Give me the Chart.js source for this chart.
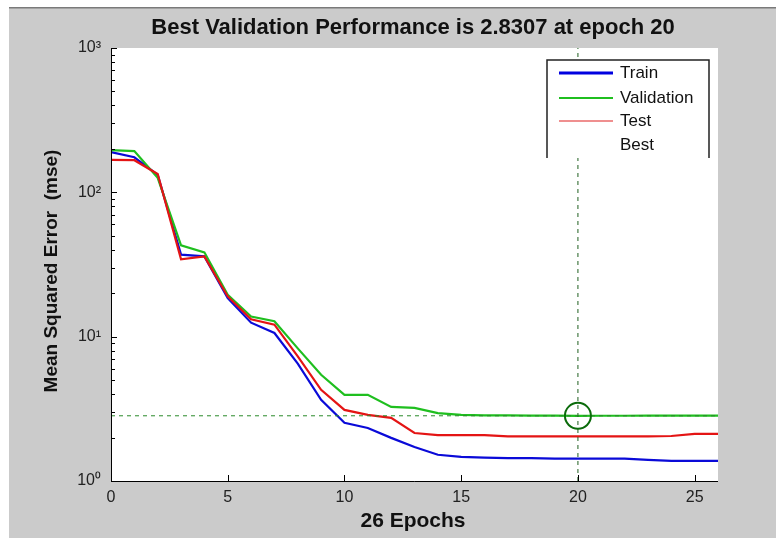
<!DOCTYPE html>
<html>
<head>
<meta charset="utf-8">
<script src="https://cdn.jsdelivr.net/npm/chart.js@4.4.1/dist/chart.umd.min.js"></script>
<style>
  html, body { margin: 0; padding: 0; background: #fff; }
  #wrap { width: 776px; height: 538px; }
</style>
</head>
<body>
<div id="wrap"><canvas id="chart" width="776" height="538"></canvas></div>
<script>
const epochs = [0, 1, 2, 3, 4, 5, 6, 7, 8, 9, 10, 11, 12, 13, 14, 15, 16, 17, 18, 19, 20, 21, 22, 23, 24, 25, 26];
const train = [190, 175, 132, 37, 36, 18.5, 12.5, 10.6, 6.5, 3.65, 2.53, 2.33, 1.99, 1.72, 1.52, 1.47, 1.45, 1.44, 1.44, 1.43, 1.43, 1.43, 1.43, 1.40, 1.38, 1.38, 1.38];
const validation = [196, 193, 126, 43, 38.4, 19.5, 13.8, 12.8, 8.3, 5.45, 3.95, 3.95, 3.26, 3.21, 2.95, 2.87, 2.85, 2.845, 2.84, 2.835, 2.8307, 2.832, 2.833, 2.834, 2.835, 2.836, 2.837];
const test = [168, 167, 134, 34.3, 36, 19, 13.2, 12.1, 7.3, 4.28, 3.11, 2.87, 2.74, 2.15, 2.08, 2.08, 2.08, 2.04, 2.04, 2.04, 2.04, 2.04, 2.04, 2.04, 2.05, 2.12, 2.12];
const bestEpoch = 20;
const bestValue = 2.8307;
const seriesNames = ["Train", "Validation", "Test", "Best"];
const xTicks = [0, 5, 10, 15, 20, 25];
const yTicks = [1, 2, 3, 4, 5, 6, 7, 8, 9, 10, 20, 30, 40, 50, 60, 70, 80, 90, 100, 200, 300, 400, 500, 600, 700, 800, 900, 1000];
const yLabels = { 1: "10\u2070", 10: "10\u00b9", 100: "10\u00b2", 1000: "10\u00b3" };

const FONT = "'Liberation Sans', Arial, sans-serif";
const toPoints = (arr) => arr.map((v, i) => ({ x: epochs[i], y: v }));

const frame = {
  id: "frame",
  beforeDraw(chart) {
    const { ctx, chartArea: a } = chart;
    ctx.save();
    ctx.fillStyle = "#ffffff";
    ctx.fillRect(0, 0, chart.width, chart.height);
    ctx.fillStyle = "#cbcbcb";
    ctx.fillRect(9, 8, chart.width - 9, chart.height - 8);
    ctx.fillStyle = "#7a7a7a";
    ctx.fillRect(9, 7, chart.width - 9, 1.5);
    ctx.fillStyle = "#ffffff";
    ctx.fillRect(a.left, a.top, a.right - a.left, a.bottom - a.top);
    ctx.restore();
  },
  afterDraw(chart) {
    const { ctx, chartArea: a, scales } = chart;
    ctx.save();
    // axis lines
    ctx.strokeStyle = "#000";
    ctx.lineWidth = 1;
    ctx.beginPath();
    ctx.moveTo(a.left + 0.5, a.top);
    ctx.lineTo(a.left + 0.5, a.bottom + 0.5);
    ctx.lineTo(a.right, a.bottom + 0.5);
    ctx.stroke();
    // inward ticks
    ctx.beginPath();
    scales.y.ticks.forEach((t) => {
      const y = Math.round(scales.y.getPixelForValue(t.value)) + 0.5;
      const len = yLabels[t.value] ? 6 : 4;
      ctx.moveTo(a.left, y);
      ctx.lineTo(a.left + len, y);
    });
    scales.x.ticks.forEach((t) => {
      const x = Math.round(scales.x.getPixelForValue(t.value)) + 0.5;
      ctx.moveTo(x, a.bottom);
      ctx.lineTo(x, a.bottom - 6);
    });
    ctx.stroke();

    // texts
    ctx.fillStyle = "#111";
    ctx.textAlign = "center";
    ctx.textBaseline = "middle";
    ctx.font = "bold 22px " + FONT;
    ctx.fillText("Best Validation Performance is " + bestValue.toFixed(4) + " at epoch " + bestEpoch, 413, 28);
    ctx.font = "bold 21px " + FONT;
    ctx.fillText(epochs.length - 1 + " Epochs", 413, 521);
    ctx.translate(52, 271);
    ctx.rotate(-Math.PI / 2);
    ctx.font = "bold 19px " + FONT;
    ctx.fillText("Mean Squared Error  (mse)", 0, 0);
    ctx.restore();
  }
};

const legendBox = {
  id: "legendBox",
  afterDatasetsDraw(chart) {
    const { ctx } = chart;
    const x0 = 547, y0 = 60, x1 = 709, y1 = 158;
    ctx.save();
    ctx.fillStyle = "#fff";
    ctx.fillRect(x0, y0, x1 - x0, y1 - y0);
    ctx.strokeStyle = "#222";
    ctx.lineWidth = 1.5;
    ctx.beginPath();
    ctx.moveTo(x0, y1);
    ctx.lineTo(x0, y0);
    ctx.lineTo(x1, y0);
    ctx.lineTo(x1, y1);
    ctx.stroke();
    const rows = [73, 98, 121, 145];
    const styles = [
      { c: "#0000e0", w: 3 },
      { c: "#1fbf1f", w: 2 },
      { c: "#e02020", w: 1.2 },
      null
    ];
    ctx.font = "17px " + FONT;
    ctx.textAlign = "left";
    ctx.textBaseline = "middle";
    seriesNames.forEach((name, i) => {
      const s = styles[i];
      if (s) {
        ctx.strokeStyle = s.c;
        ctx.lineWidth = s.w;
        ctx.beginPath();
        ctx.moveTo(559, rows[i]);
        ctx.lineTo(613, rows[i]);
        ctx.stroke();
      }
      ctx.fillStyle = "#111";
      ctx.fillText(name, 620, rows[i]);
    });
    ctx.restore();
  }
};

new Chart(document.getElementById("chart"), {
  type: "line",
  data: {
    datasets: [
      {
        label: "Best",
        data: [{ x: bestEpoch, y: bestValue }],
        showLine: false,
        pointRadius: 13,
        pointBorderWidth: 2,
        pointBorderColor: "#0b6b0b",
        pointBackgroundColor: "rgba(0,0,0,0)",
        order: 0
      },
      {
        label: "bestH",
        data: [{ x: 0, y: bestValue }, { x: 26, y: bestValue }],
        borderColor: "#2a8a2a",
        borderWidth: 1,
        borderDash: [4, 4],
        pointRadius: 0,
        order: 1
      },
      {
        label: "bestV",
        data: [{ x: bestEpoch, y: 1 }, { x: bestEpoch, y: 1000 }],
        borderColor: "#1f5f1f",
        borderWidth: 1,
        borderDash: [4, 4],
        pointRadius: 0,
        order: 1
      },
      {
        label: "Test",
        data: toPoints(test),
        borderColor: "#e41414",
        borderWidth: 2.2,
        pointRadius: 0,
        order: 2
      },
      {
        label: "Validation",
        data: toPoints(validation),
        borderColor: "#1fbf1f",
        borderWidth: 2.2,
        pointRadius: 0,
        order: 3
      },
      {
        label: "Train",
        data: toPoints(train),
        borderColor: "#0a0ad8",
        borderWidth: 2.2,
        pointRadius: 0,
        order: 4
      }
    ]
  },
  options: {
    responsive: false,
    animation: false,
    layout: { padding: { left: 0, top: 48, right: 58, bottom: 0 } },
    plugins: { legend: { display: false }, tooltip: { enabled: false } },
    scales: {
      x: {
        type: "linear",
        min: 0,
        max: 26,
        grid: { display: false },
        border: { display: false },
        afterBuildTicks: (scale) => { scale.ticks = xTicks.map((v) => ({ value: v })); },
        afterFit: (scale) => { scale.height = 57; },
        ticks: {
          padding: -1,
          color: "#222",
          font: { family: FONT, size: 16 },
          maxRotation: 0,
          callback: (v) => String(v)
        }
      },
      y: {
        type: "logarithmic",
        min: 1,
        max: 1000,
        grid: { display: false },
        border: { display: false },
        afterBuildTicks: (scale) => { scale.ticks = yTicks.map((v) => ({ value: v })); },
        afterFit: (scale) => { scale.width = 111; },
        ticks: {
          padding: 2,
          color: "#222",
          autoSkip: false,
          font: { family: FONT, size: 16 },
          callback: (v) => yLabels[v] || ""
        }
      }
    }
  },
  plugins: [frame, legendBox]
});
</script>
</body>
</html>
